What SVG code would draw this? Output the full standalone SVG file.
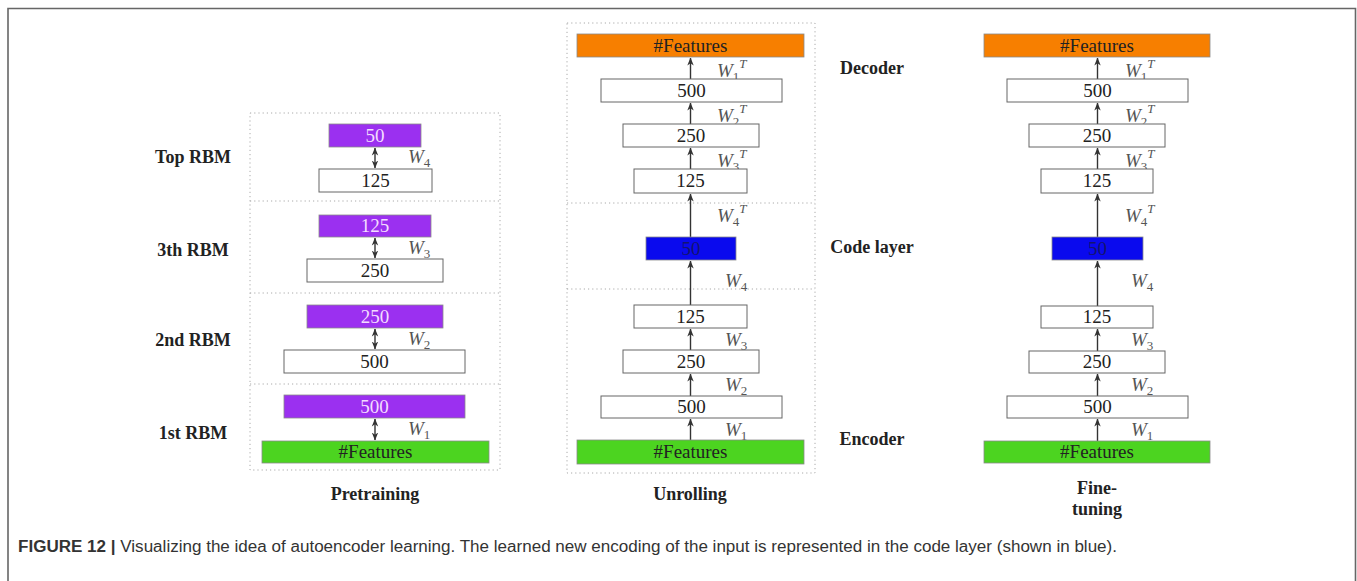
<svg xmlns="http://www.w3.org/2000/svg" width="1357" height="581" viewBox="0 0 1357 581">
  <style>
    .frame { fill: none; stroke: #666; stroke-width: 1.6; }
    .panel { fill: none; stroke: #aaa; stroke-width: 1; stroke-dasharray: 1.2 3; }
    .white { fill: #fff; stroke: #666; stroke-width: 1; }
    .purple { fill: #9b30f0; stroke: #8a8a8a; stroke-width: 0.8; }
    .green { fill: #4cd420; stroke: #8a8a8a; stroke-width: 0.8; }
    .orange { fill: #f77f00; stroke: #8a8a8a; stroke-width: 0.8; }
    .blue { fill: #0a0aee; stroke: #8a8a8a; stroke-width: 0.8; }
    .num { font-family: "Liberation Serif", "Times New Roman", serif; font-size: 19px; text-anchor: middle; fill: #222; }
    .num.light { fill: #f4dcff; }
    .num.dark { fill: #141470; }
    .row { font-family: "Liberation Serif", "Times New Roman", serif; font-size: 18px; font-weight: bold; text-anchor: middle; fill: #222; }
    .w { font-family: "Liberation Serif", "Times New Roman", serif; font-size: 19px; font-style: italic; fill: #555; }
    .s { font-size: 13px; font-style: normal; }
    .t { font-size: 13px; }
    .arrow { stroke: #333; stroke-width: 1.4; fill: none; }
    .caption { font-family: "Liberation Sans", Arial, sans-serif; font-size: 16px; fill: #333; }
  </style>
  <defs>
    <marker id="head" viewBox="0 0 8 8" refX="7.5" refY="4" markerWidth="8" markerHeight="8" markerUnits="userSpaceOnUse" orient="auto-start-reverse">
      <path d="M0,0.8 L8,4 L0,7.2 L2.2,4 Z" fill="#333"/>
    </marker>
  </defs>

  <!-- outer frame, open at the bottom -->
  <path class="frame" d="M8,581 V8.5 H1355.5 V581"/>

  <!-- dotted stage outlines -->
  <g id="pretraining-panel">
    <rect class="panel" x="250" y="113" width="250" height="357"/>
    <line class="panel" x1="250" y1="201" x2="500" y2="201"/>
    <line class="panel" x1="250" y1="293" x2="500" y2="293"/>
    <line class="panel" x1="250" y1="384" x2="500" y2="384"/>
  </g>
  <g id="unrolling-panel">
    <rect class="panel" x="567" y="23" width="248" height="450"/>
    <line class="panel" x1="567" y1="203" x2="815" y2="203"/>
    <line class="panel" x1="567" y1="289" x2="815" y2="289"/>
  </g>

  <!-- row labels -->
  <g id="row-labels">
    <text class="row" x="193" y="163">Top RBM</text>
    <text class="row" x="193" y="256">3th RBM</text>
    <text class="row" x="193" y="346">2nd RBM</text>
    <text class="row" x="193" y="439">1st RBM</text>
    <text class="row" x="872" y="74">Decoder</text>
    <text class="row" x="872" y="253">Code layer</text>
    <text class="row" x="872" y="445">Encoder</text>
  </g>

  <!-- stage titles -->
  <g id="stage-titles">
    <text class="row" x="375" y="500">Pretraining</text>
    <text class="row" x="690" y="500">Unrolling</text>
    <text class="row" x="1097" y="494">Fine-</text>
    <text class="row" x="1097" y="515">tuning</text>
  </g>

  <!-- connectors -->
  <g id="connectors">
    <!-- pretraining: RBM links, both directions -->
    <line class="arrow" x1="375" y1="148" x2="375" y2="168" marker-start="url(#head)" marker-end="url(#head)"/>
    <line class="arrow" x1="375" y1="238" x2="375" y2="258" marker-start="url(#head)" marker-end="url(#head)"/>
    <line class="arrow" x1="375" y1="329" x2="375" y2="349" marker-start="url(#head)" marker-end="url(#head)"/>
    <line class="arrow" x1="375" y1="419" x2="375" y2="440" marker-start="url(#head)" marker-end="url(#head)"/>
    <!-- unrolling -->
    <line class="arrow" x1="690.5" y1="440" x2="690.5" y2="419" marker-end="url(#head)"/>
    <line class="arrow" x1="690.5" y1="396" x2="690.5" y2="374" marker-end="url(#head)"/>
    <line class="arrow" x1="690.5" y1="350" x2="690.5" y2="329" marker-end="url(#head)"/>
    <line class="arrow" x1="690.5" y1="305" x2="690.5" y2="261" marker-end="url(#head)"/>
    <line class="arrow" x1="690.5" y1="237" x2="690.5" y2="194" marker-end="url(#head)"/>
    <line class="arrow" x1="690.5" y1="169" x2="690.5" y2="148" marker-end="url(#head)"/>
    <line class="arrow" x1="690.5" y1="124" x2="690.5" y2="103" marker-end="url(#head)"/>
    <line class="arrow" x1="690.5" y1="79" x2="690.5" y2="58" marker-end="url(#head)"/>
    <!-- fine-tuning -->
    <line class="arrow" x1="1097.5" y1="441" x2="1097.5" y2="419" marker-end="url(#head)"/>
    <line class="arrow" x1="1097.5" y1="396" x2="1097.5" y2="374" marker-end="url(#head)"/>
    <line class="arrow" x1="1097.5" y1="351" x2="1097.5" y2="329" marker-end="url(#head)"/>
    <line class="arrow" x1="1097.5" y1="306" x2="1097.5" y2="261" marker-end="url(#head)"/>
    <line class="arrow" x1="1097.5" y1="237" x2="1097.5" y2="194" marker-end="url(#head)"/>
    <line class="arrow" x1="1097.5" y1="169" x2="1097.5" y2="148" marker-end="url(#head)"/>
    <line class="arrow" x1="1097.5" y1="124" x2="1097.5" y2="103" marker-end="url(#head)"/>
    <line class="arrow" x1="1097.5" y1="79" x2="1097.5" y2="58" marker-end="url(#head)"/>
  </g>

  <!-- weight labels -->
  <g id="weights">
    <text class="w" x="408" y="163">W<tspan class="s" dy="4">4</tspan></text>
    <text class="w" x="408" y="254">W<tspan class="s" dy="4">3</tspan></text>
    <text class="w" x="408" y="345">W<tspan class="s" dy="4">2</tspan></text>
    <text class="w" x="408" y="435">W<tspan class="s" dy="4">1</tspan></text>

    <text class="w" x="717" y="77">W<tspan class="s" dy="4">1</tspan><tspan class="t" dy="-13">T</tspan></text>
    <text class="w" x="717" y="122">W<tspan class="s" dy="4">2</tspan><tspan class="t" dy="-13">T</tspan></text>
    <text class="w" x="717" y="167">W<tspan class="s" dy="4">3</tspan><tspan class="t" dy="-13">T</tspan></text>
    <text class="w" x="717" y="222">W<tspan class="s" dy="4">4</tspan><tspan class="t" dy="-13">T</tspan></text>
    <text class="w" x="725" y="287">W<tspan class="s" dy="4">4</tspan></text>
    <text class="w" x="725" y="346">W<tspan class="s" dy="4">3</tspan></text>
    <text class="w" x="725" y="391">W<tspan class="s" dy="4">2</tspan></text>
    <text class="w" x="725" y="436">W<tspan class="s" dy="4">1</tspan></text>

    <text class="w" x="1125" y="77">W<tspan class="s" dy="4">1</tspan><tspan class="t" dy="-13">T</tspan></text>
    <text class="w" x="1125" y="122">W<tspan class="s" dy="4">2</tspan><tspan class="t" dy="-13">T</tspan></text>
    <text class="w" x="1125" y="167">W<tspan class="s" dy="4">3</tspan><tspan class="t" dy="-13">T</tspan></text>
    <text class="w" x="1125" y="222">W<tspan class="s" dy="4">4</tspan><tspan class="t" dy="-13">T</tspan></text>
    <text class="w" x="1131" y="287">W<tspan class="s" dy="4">4</tspan></text>
    <text class="w" x="1131" y="346">W<tspan class="s" dy="4">3</tspan></text>
    <text class="w" x="1131" y="391">W<tspan class="s" dy="4">2</tspan></text>
    <text class="w" x="1131" y="436">W<tspan class="s" dy="4">1</tspan></text>
  </g>

  <!-- pretraining stack -->
  <g id="pre-top-50"><rect class="purple" x="329" y="124" width="92" height="23"/><text class="num light" x="375" y="142">50</text></g>
  <g id="pre-top-125"><rect class="white" x="319" y="169" width="113" height="23"/><text class="num" x="375.5" y="187">125</text></g>
  <g id="pre-3-125"><rect class="purple" x="319" y="215" width="112" height="22"/><text class="num light" x="375" y="232">125</text></g>
  <g id="pre-3-250"><rect class="white" x="307" y="259" width="136" height="23"/><text class="num" x="375" y="277">250</text></g>
  <g id="pre-2-250"><rect class="purple" x="307" y="305" width="136" height="23"/><text class="num light" x="375" y="323">250</text></g>
  <g id="pre-2-500"><rect class="white" x="284" y="350" width="181" height="23"/><text class="num" x="374.5" y="368">500</text></g>
  <g id="pre-1-500"><rect class="purple" x="284" y="395" width="181" height="23"/><text class="num light" x="374.5" y="413">500</text></g>
  <g id="pre-1-features"><rect class="green" x="262" y="441" width="227" height="22"/><text class="num" x="375.5" y="458">#Features</text></g>

  <!-- unrolled stack -->
  <g id="unr-out"><rect class="orange" x="577" y="34" width="227" height="23"/><text class="num" x="690.5" y="52">#Features</text></g>
  <g id="unr-dec-500"><rect class="white" x="601" y="79" width="181" height="23"/><text class="num" x="691.5" y="97">500</text></g>
  <g id="unr-dec-250"><rect class="white" x="623" y="124" width="136" height="23"/><text class="num" x="691" y="142">250</text></g>
  <g id="unr-dec-125"><rect class="white" x="634" y="169" width="113" height="24"/><text class="num" x="690.5" y="187">125</text></g>
  <g id="unr-code"><rect class="blue" x="646" y="237" width="90" height="23"/><text class="num dark" x="691" y="255">50</text></g>
  <g id="unr-enc-125"><rect class="white" x="634" y="305" width="113" height="23"/><text class="num" x="690.5" y="323">125</text></g>
  <g id="unr-enc-250"><rect class="white" x="623" y="350" width="136" height="23"/><text class="num" x="691" y="368">250</text></g>
  <g id="unr-enc-500"><rect class="white" x="601" y="396" width="181" height="22"/><text class="num" x="691.5" y="413">500</text></g>
  <g id="unr-in"><rect class="green" x="577" y="440" width="227" height="24"/><text class="num" x="690.5" y="458">#Features</text></g>

  <!-- fine-tuned stack -->
  <g id="ft-out"><rect class="orange" x="984" y="34" width="226" height="23"/><text class="num" x="1097" y="52">#Features</text></g>
  <g id="ft-dec-500"><rect class="white" x="1007" y="79" width="181" height="23"/><text class="num" x="1097.5" y="97">500</text></g>
  <g id="ft-dec-250"><rect class="white" x="1029" y="124" width="136" height="23"/><text class="num" x="1097" y="142">250</text></g>
  <g id="ft-dec-125"><rect class="white" x="1041" y="169" width="112" height="24"/><text class="num" x="1097" y="187">125</text></g>
  <g id="ft-code"><rect class="blue" x="1052" y="237" width="91" height="23"/><text class="num dark" x="1097.5" y="255">50</text></g>
  <g id="ft-enc-125"><rect class="white" x="1041" y="306" width="112" height="22"/><text class="num" x="1097" y="323">125</text></g>
  <g id="ft-enc-250"><rect class="white" x="1029" y="351" width="136" height="22"/><text class="num" x="1097" y="368">250</text></g>
  <g id="ft-enc-500"><rect class="white" x="1007" y="396" width="181" height="22"/><text class="num" x="1097.5" y="413">500</text></g>
  <g id="ft-in"><rect class="green" x="984" y="441" width="226" height="22"/><text class="num" x="1097" y="458">#Features</text></g>

  <!-- caption -->
  <text class="caption" x="18" y="552" textLength="1099" lengthAdjust="spacingAndGlyphs"><tspan font-weight="bold">FIGURE 12 |</tspan> Visualizing the idea of autoencoder learning. The learned new encoding of the input is represented in the code layer (shown in blue).</text>
</svg>
